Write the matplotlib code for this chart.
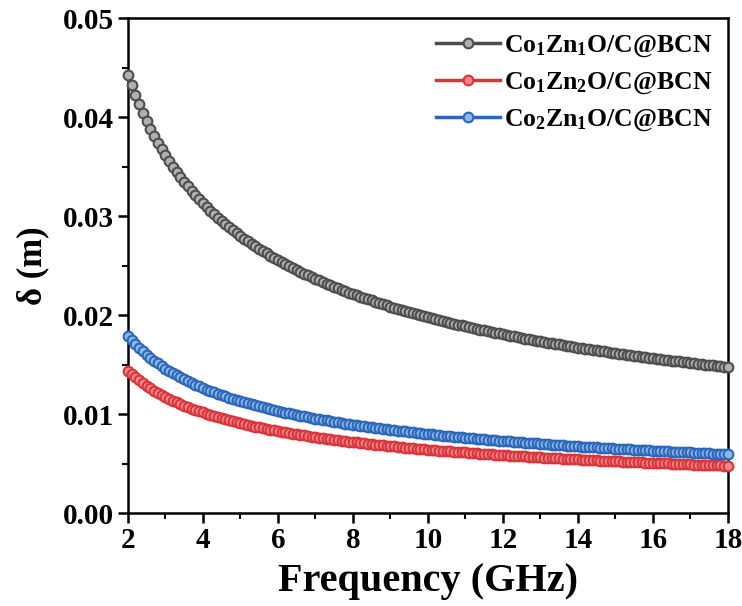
import numpy as np
import matplotlib
matplotlib.use("Agg")
import matplotlib.pyplot as plt
from matplotlib.ticker import MultipleLocator, FormatStrFormatter

plt.rcParams['font.family'] = ['Liberation Serif', 'DejaVu Serif']
plt.rcParams['font.weight'] = 'bold'
plt.rcParams['mathtext.fontset'] = 'custom'
plt.rcParams['mathtext.rm'] = 'Liberation Serif:bold'
plt.rcParams['mathtext.bf'] = 'Liberation Serif:bold'
plt.rcParams['mathtext.default'] = 'bf'

# frequency grid, 2-18 GHz in 0.1 GHz steps
freq = np.round(np.linspace(2, 18, 161), 1)

# skin depth (m)
delta_co1zn1 = [
    0.04430, 0.04323, 0.04224, 0.04131, 0.04044, 0.03962, 0.03885, 0.03813, 0.03744, 0.03679,
    0.03617, 0.03558, 0.03502, 0.03449, 0.03398, 0.03349, 0.03302, 0.03257, 0.03214, 0.03172,
    0.03133, 0.03094, 0.03057, 0.03021, 0.02987, 0.02953, 0.02921, 0.02890, 0.02860, 0.02830,
    0.02802, 0.02774, 0.02747, 0.02721, 0.02696, 0.02671, 0.02647, 0.02624, 0.02601, 0.02579,
    0.02558, 0.02537, 0.02516, 0.02496, 0.02476, 0.02457, 0.02439, 0.02420, 0.02403, 0.02385,
    0.02368, 0.02351, 0.02335, 0.02319, 0.02303, 0.02288, 0.02273, 0.02258, 0.02243, 0.02229,
    0.02215, 0.02201, 0.02188, 0.02175, 0.02162, 0.02149, 0.02136, 0.02124, 0.02112, 0.02100,
    0.02088, 0.02077, 0.02066, 0.02054, 0.02043, 0.02033, 0.02022, 0.02012, 0.02001, 0.01991,
    0.01981, 0.01971, 0.01962, 0.01952, 0.01943, 0.01933, 0.01924, 0.01915, 0.01906, 0.01898,
    0.01889, 0.01880, 0.01872, 0.01864, 0.01856, 0.01847, 0.01839, 0.01832, 0.01824, 0.01816,
    0.01809, 0.01801, 0.01794, 0.01786, 0.01779, 0.01772, 0.01765, 0.01758, 0.01751, 0.01744,
    0.01738, 0.01731, 0.01724, 0.01718, 0.01711, 0.01705, 0.01699, 0.01693, 0.01686, 0.01680,
    0.01674, 0.01668, 0.01663, 0.01657, 0.01651, 0.01645, 0.01640, 0.01634, 0.01629, 0.01623,
    0.01618, 0.01612, 0.01607, 0.01602, 0.01596, 0.01591, 0.01586, 0.01581, 0.01576, 0.01571,
    0.01566, 0.01561, 0.01557, 0.01552, 0.01547, 0.01542, 0.01538, 0.01533, 0.01529, 0.01524,
    0.01520, 0.01515, 0.01511, 0.01506, 0.01502, 0.01498, 0.01493, 0.01489, 0.01485, 0.01481,
    0.01477,
]
delta_co1zn2 = [
    0.01440, 0.01405, 0.01373, 0.01342, 0.01314, 0.01288, 0.01263, 0.01239, 0.01217, 0.01196,
    0.01175, 0.01156, 0.01138, 0.01121, 0.01104, 0.01088, 0.01073, 0.01058, 0.01044, 0.01031,
    0.01018, 0.01005, 0.00993, 0.00982, 0.00971, 0.00960, 0.00949, 0.00939, 0.00929, 0.00920,
    0.00911, 0.00902, 0.00893, 0.00884, 0.00876, 0.00868, 0.00860, 0.00853, 0.00845, 0.00838,
    0.00831, 0.00824, 0.00818, 0.00811, 0.00805, 0.00799, 0.00793, 0.00787, 0.00781, 0.00775,
    0.00770, 0.00764, 0.00759, 0.00754, 0.00748, 0.00743, 0.00739, 0.00734, 0.00729, 0.00724,
    0.00720, 0.00715, 0.00711, 0.00707, 0.00702, 0.00698, 0.00694, 0.00690, 0.00686, 0.00682,
    0.00679, 0.00675, 0.00671, 0.00668, 0.00664, 0.00661, 0.00657, 0.00654, 0.00650, 0.00647,
    0.00644, 0.00641, 0.00637, 0.00634, 0.00631, 0.00628, 0.00625, 0.00622, 0.00620, 0.00617,
    0.00614, 0.00611, 0.00608, 0.00606, 0.00603, 0.00600, 0.00598, 0.00595, 0.00593, 0.00590,
    0.00588, 0.00585, 0.00583, 0.00581, 0.00578, 0.00576, 0.00574, 0.00571, 0.00569, 0.00567,
    0.00565, 0.00563, 0.00560, 0.00558, 0.00556, 0.00554, 0.00552, 0.00550, 0.00548, 0.00546,
    0.00544, 0.00542, 0.00540, 0.00538, 0.00537, 0.00535, 0.00533, 0.00531, 0.00529, 0.00527,
    0.00526, 0.00524, 0.00522, 0.00521, 0.00519, 0.00517, 0.00515, 0.00514, 0.00512, 0.00511,
    0.00509, 0.00507, 0.00506, 0.00504, 0.00503, 0.00501, 0.00500, 0.00498, 0.00497, 0.00495,
    0.00494, 0.00492, 0.00491, 0.00489, 0.00488, 0.00487, 0.00485, 0.00484, 0.00483, 0.00481,
    0.00480,
]
delta_co2zn1 = [
    0.01790, 0.01747, 0.01706, 0.01669, 0.01634, 0.01601, 0.01570, 0.01540, 0.01513, 0.01486,
    0.01461, 0.01438, 0.01415, 0.01393, 0.01373, 0.01353, 0.01334, 0.01316, 0.01298, 0.01282,
    0.01266, 0.01250, 0.01235, 0.01221, 0.01207, 0.01193, 0.01180, 0.01167, 0.01155, 0.01143,
    0.01132, 0.01121, 0.01110, 0.01099, 0.01089, 0.01079, 0.01070, 0.01060, 0.01051, 0.01042,
    0.01033, 0.01025, 0.01016, 0.01008, 0.01000, 0.00993, 0.00985, 0.00978, 0.00971, 0.00964,
    0.00957, 0.00950, 0.00943, 0.00937, 0.00930, 0.00924, 0.00918, 0.00912, 0.00906, 0.00900,
    0.00895, 0.00889, 0.00884, 0.00879, 0.00873, 0.00868, 0.00863, 0.00858, 0.00853, 0.00848,
    0.00844, 0.00839, 0.00834, 0.00830, 0.00826, 0.00821, 0.00817, 0.00813, 0.00809, 0.00804,
    0.00800, 0.00796, 0.00792, 0.00789, 0.00785, 0.00781, 0.00777, 0.00774, 0.00770, 0.00767,
    0.00763, 0.00760, 0.00756, 0.00753, 0.00750, 0.00746, 0.00743, 0.00740, 0.00737, 0.00734,
    0.00731, 0.00728, 0.00725, 0.00722, 0.00719, 0.00716, 0.00713, 0.00710, 0.00707, 0.00705,
    0.00702, 0.00699, 0.00697, 0.00694, 0.00691, 0.00689, 0.00686, 0.00684, 0.00681, 0.00679,
    0.00676, 0.00674, 0.00672, 0.00669, 0.00667, 0.00665, 0.00662, 0.00660, 0.00658, 0.00656,
    0.00654, 0.00651, 0.00649, 0.00647, 0.00645, 0.00643, 0.00641, 0.00639, 0.00637, 0.00635,
    0.00633, 0.00631, 0.00629, 0.00627, 0.00625, 0.00623, 0.00621, 0.00619, 0.00618, 0.00616,
    0.00614, 0.00612, 0.00610, 0.00608, 0.00607, 0.00605, 0.00603, 0.00602, 0.00600, 0.00598,
    0.00597,
]

labels = ['Co$_1$Zn$_1$O/C@BCN', 'Co$_1$Zn$_2$O/C@BCN', 'Co$_2$Zn$_1$O/C@BCN']
line_colors = ['#4d4d4d', '#d7353c', '#2d66b6']
face_colors = ['#b0b0b0', '#f38588', '#88b8ee']

fig = plt.figure(figsize=(7.42, 6.06), dpi=100)
ax = fig.add_axes([0.1725, 0.153, 0.8085, 0.817])

for y, lab, lc, fc in zip([delta_co1zn1, delta_co1zn2, delta_co2zn1], labels, line_colors, face_colors):
    ax.plot(freq, y, '-', color=lc, lw=2.5, marker='o', ms=7,
            mfc=fc, mec=lc, mew=1.5, label=lab, clip_on=False, zorder=3)

ax.set_xlim(2, 18)
ax.set_ylim(0, 0.05)
ax.xaxis.set_major_locator(MultipleLocator(2))
ax.xaxis.set_minor_locator(MultipleLocator(1))
ax.yaxis.set_major_locator(MultipleLocator(0.01))
ax.yaxis.set_minor_locator(MultipleLocator(0.005))
ax.yaxis.set_major_formatter(FormatStrFormatter('%.2f'))

ax.tick_params(which='major', direction='out', length=7, width=1.8, labelsize=21, pad=3)
ax.tick_params(which='minor', direction='out', length=4, width=1.5)
for s in ax.spines.values():
    s.set_linewidth(1.8)

ax.set_xlabel('Frequency (GHz)', fontsize=29, fontweight='bold', labelpad=6)
ax.set_ylabel('δ (m)', fontsize=25, fontweight='bold', labelpad=10)

ax.legend(loc='upper right', frameon=False, fontsize=18.5, handlelength=2.5,
          handletextpad=0.15, labelspacing=0.45, borderaxespad=0.2,
          numpoints=1, bbox_to_anchor=(1.0, 1.0))

fig.savefig('out.png', dpi=100)
